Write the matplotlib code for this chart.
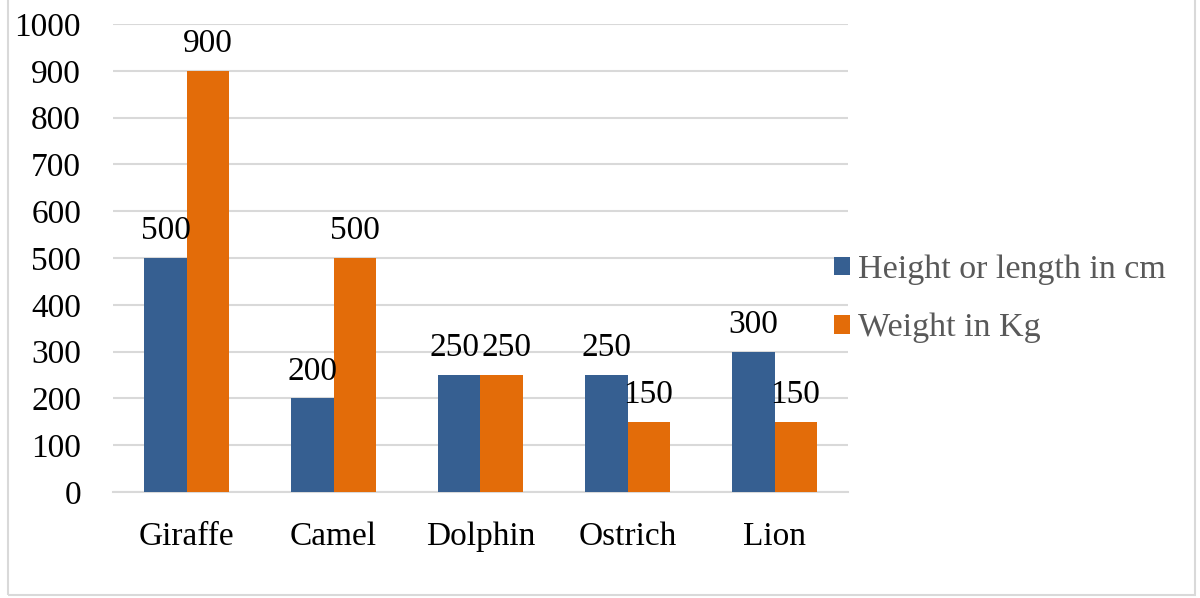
import numpy as np
import matplotlib.pyplot as plt
from matplotlib.patches import Rectangle

# data
animals = ["Giraffe", "Camel", "Dolphin", "Ostrich", "Lion"]
height_cm = [500, 200, 250, 250, 300]
weight_kg = [900, 500, 250, 150, 150]
y_ticks = list(range(0, 1001, 100))

BLUE = "#365F91"
ORANGE = "#E36C09"
GRID = "#D9D9D9"

plt.rcParams['font.family'] = ['Liberation Serif', 'DejaVu Serif']

fig = plt.figure(figsize=(12, 5.98), dpi=100)
ax = fig.add_axes([113 / 1200, 1 - 492 / 598, 735 / 1200, 468 / 598])

x = np.arange(len(animals))
w = 0.286
b1 = ax.bar(x - w / 2, height_cm, w, color=BLUE, label="Height or length in cm", zorder=3)
b2 = ax.bar(x + w / 2, weight_kg, w, color=ORANGE, label="Weight in Kg", zorder=3)


def label_bars(bars):
    out = []
    for rect in bars:
        out.append(ax.annotate(f"{rect.get_height():g}",
                               (rect.get_x() + rect.get_width() / 2, rect.get_height()),
                               xytext=(0, 8.5), textcoords="offset points",
                               ha="center", va="bottom", fontsize=24, color="black", zorder=4))
    return out


lab1 = label_bars(b1)
lab2 = label_bars(b2)

ax.set_xlim(-0.5, len(animals) - 0.5)
ax.set_ylim(0, 1000)
ax.set_yticks(y_ticks)
ax.set_xticks(x)
ax.set_xticklabels(animals)
ax.tick_params(axis="both", length=0, labelsize=24)
ax.tick_params(axis="x", pad=21)
ax.tick_params(axis="y", pad=23)
ax.grid(axis="y", color=GRID, linewidth=1.5, zorder=0)
for s in ["top", "right", "left"]:
    ax.spines[s].set_visible(False)
ax.spines["bottom"].set_color(GRID)
ax.spines["bottom"].set_linewidth(1.5)

# push apart value labels in a group that would overlap (like Excel does)
fig.canvas.draw()
r = fig.canvas.get_renderer()
for a, b in zip(lab1, lab2):
    ea, eb = a.get_window_extent(r), b.get_window_extent(r)
    if ea.overlaps(eb):
        shift = (ea.x1 - eb.x0) / 2 * 72 / fig.dpi + 1
        a.xyann = (-shift, a.xyann[1])
        b.xyann = (shift, b.xyann[1])

leg = fig.legend(handles=[b1, b2], loc="center left",
                 bbox_to_anchor=(803 / 1200, 1 - 299 / 598),
                 frameon=False, fontsize=24.5, handlelength=0.47, handleheight=0.47,
                 handletextpad=0.25, labelspacing=0.82)
for t in leg.get_texts():
    t.set_color("#595959")

# light outer frame of the chart area
fig.patches.append(Rectangle((8 / 1200, 3 / 598), 1187 / 1200, 1.0, transform=fig.transFigure,
                             fill=False, edgecolor="#D9D9D9", linewidth=1.5))

fig.savefig("out.png", dpi=100)
